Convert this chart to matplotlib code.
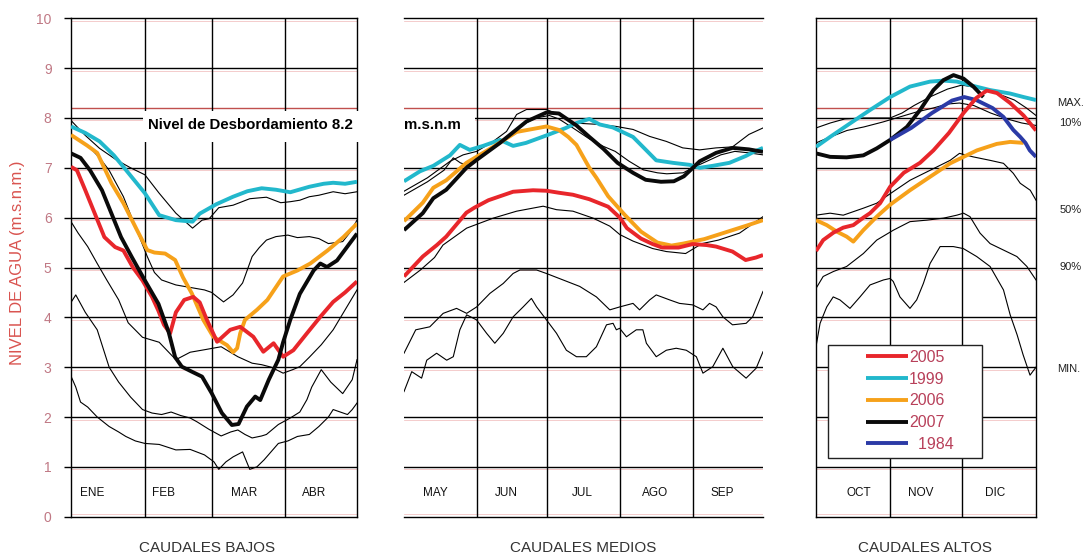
import matplotlib
matplotlib.use('Agg')
import matplotlib.pyplot as plt
from matplotlib.patches import Rectangle

plt.rcParams['font.family'] = ['Liberation Sans', 'DejaVu Sans']

# ---- datos: (dia desde el inicio del periodo, nivel m.s.n.m.) ----

# CAUDALES BAJOS  (enero - abril)
bajos_meses = ['ENE', 'FEB', 'MAR', 'ABR']
bajos_max = [(0, 7.95), (6, 7.65), (12, 7.39), (19, 7.16), (25, 7.0), (31, 6.86), (37, 6.49), (44, 6.09),
             (51, 5.79), (55, 5.95), (58, 5.98), (62, 6.2), (68, 6.25), (75, 6.38), (82, 6.41), (88, 6.3),
             (92, 6.32), (96, 6.35), (100, 6.42), (104, 6.45), (110, 6.52), (115, 6.48), (120, 6.52)]
bajos_10 = [(0, 7.65), (4, 7.55), (8, 7.4), (12, 7.2), (16, 6.95), (22, 6.42), (27, 5.82), (32, 5.22),
            (35, 4.9), (38, 4.75), (44, 4.65), (50, 4.6), (56, 4.55), (59, 4.5), (64, 4.31), (68, 4.45),
            (72, 4.69), (76, 5.22), (79, 5.4), (82, 5.55), (86, 5.62), (91, 5.65), (95, 5.6), (100, 5.62),
            (104, 5.58), (108, 5.48), (114, 5.52), (117, 5.7), (120, 5.95)]
bajos_50 = [(0, 5.92), (3, 5.69), (7, 5.42), (11, 5.08), (15, 4.75), (20, 4.35), (24, 3.89), (30, 3.6),
            (37, 3.5), (41, 3.3), (44, 3.15), (50, 3.3), (56, 3.35), (63, 3.41), (70, 3.21), (76, 3.08),
            (80, 3.05), (84, 3.0), (89, 2.88), (93, 2.95), (96, 3.01), (100, 3.2), (105, 3.45), (110, 3.75),
            (115, 4.15), (120, 4.55)]
bajos_90 = [(0, 4.3), (2, 4.45), (6, 4.1), (11, 3.75), (16, 3.0), (20, 2.7), (25, 2.4), (30, 2.15),
            (34, 2.08), (38, 2.05), (42, 2.1), (46, 2.03), (50, 1.98), (53, 1.9), (58, 1.75), (63, 1.62),
            (67, 1.7), (70, 1.74), (73, 1.65), (76, 1.58), (80, 1.62), (82, 1.65), (87, 1.85), (92, 1.98),
            (96, 2.1), (99, 2.35), (101, 2.6), (105, 2.95), (109, 2.7), (114, 2.47), (118, 2.75), (120, 3.15)]
bajos_min = [(0, 2.82), (2, 2.6), (4, 2.3), (7, 2.2), (11, 2.0), (16, 1.81), (20, 1.7), (23, 1.61),
             (27, 1.52), (31, 1.47), (37, 1.45), (44, 1.34), (50, 1.35), (56, 1.24), (60, 1.1), (62, 0.95),
             (65, 1.1), (68, 1.2), (72, 1.3), (75, 0.95), (78, 1.0), (81, 1.14), (87, 1.47), (91, 1.52),
             (95, 1.61), (100, 1.65), (104, 1.81), (108, 2.0), (110, 2.15), (113, 2.1), (116, 2.05),
             (118, 2.15), (120, 2.28)]
bajos_2005 = [(0, 7.02), (2.5, 6.95), (6, 6.55), (10, 6.08), (14, 5.61), (18.5, 5.41), (22, 5.34), (26, 5.0),
              (30, 4.74), (34, 4.41), (36.6, 4.14), (39, 3.85), (41.6, 3.68), (44, 4.1), (47.5, 4.35),
              (51.3, 4.41), (54, 4.3), (57, 3.95), (61.3, 3.51), (66.8, 3.75), (71, 3.81), (76.5, 3.61),
              (80.7, 3.31), (85, 3.48), (89, 3.21), (93.3, 3.34), (99, 3.68), (104.6, 4.01), (110, 4.31),
              (115, 4.5), (120, 4.72)]
bajos_1999 = [(0, 7.83), (6, 7.7), (12, 7.53), (18, 7.25), (23, 6.96), (31, 6.49), (37, 6.05), (44, 5.95),
              (51, 5.92), (54, 6.08), (61, 6.27), (68, 6.42), (74, 6.53), (80, 6.59), (86, 6.56), (92, 6.51),
              (100, 6.62), (106, 6.68), (110, 6.70), (115, 6.68), (120, 6.72)]
bajos_2006 = [(0, 7.66), (6.7, 7.45), (11, 7.3), (17, 6.69), (22, 6.29), (27.7, 5.75), (32, 5.35), (35, 5.3),
              (39.5, 5.28), (43.7, 5.15), (47, 4.8), (50.7, 4.48), (55.5, 3.95), (59.7, 3.61), (65.5, 3.44),
              (68, 3.3), (69.7, 3.38), (71, 3.68), (73, 3.95), (78, 4.15), (82.4, 4.35), (89, 4.82),
              (95, 4.94), (100.4, 5.08), (107.6, 5.34), (114.3, 5.61), (120, 5.88)]
bajos_2007 = [(0, 7.29), (4, 7.2), (8, 6.95), (13, 6.55), (17, 6.08), (21, 5.61), (25.5, 5.21), (31, 4.74),
              (36.7, 4.27), (41, 3.7), (43.7, 3.2), (46.5, 3.01), (50.7, 2.91), (55, 2.81), (59, 2.48),
              (63.3, 2.08), (67.5, 1.84), (70.3, 1.86), (73.8, 2.21), (77.3, 2.41), (79.4, 2.34), (83, 2.75),
              (87, 3.15), (89, 3.5), (92, 3.95), (96, 4.47), (101.8, 4.94), (104.6, 5.08), (107.4, 5.01),
              (111.6, 5.14), (115.8, 5.41), (120, 5.68)]

# CAUDALES MEDIOS  (mayo - septiembre)
medios_meses = ['MAY', 'JUN', 'JUL', 'AGO', 'SEP']
medios_max = [(0, 6.53), (10, 6.8), (19.6, 7.13), (25.2, 7.26), (31, 7.33), (38, 7.53), (43.7, 7.73),
              (48, 8.07), (52.2, 8.17), (60.7, 8.17), (66, 8.07), (72, 7.9), (83.4, 7.87), (90.5, 7.83),
              (97.6, 7.77), (104.7, 7.63), (111.8, 7.53), (118.8, 7.4), (126, 7.36), (133, 7.4),
              (140, 7.42), (147, 7.67), (153, 7.8)]
medios_10 = [(0, 6.45), (10, 6.72), (17, 6.95), (21, 7.2), (24, 7.1), (27, 7.05), (31, 7.2), (38, 7.4),
             (44, 7.6), (50, 7.85), (56, 8.0), (62, 8.05), (66, 7.98), (72, 7.8), (79, 7.58), (85, 7.43),
             (90, 7.33), (96, 7.13), (102, 6.96), (108, 6.9), (112, 6.88), (119, 6.9), (123, 7.0),
             (129, 7.13), (135, 7.26), (141, 7.33), (147, 7.3), (153, 7.26)]
medios_50 = [(0, 4.7), (7, 4.95), (13, 5.2), (16.6, 5.45), (26.7, 5.79), (38, 5.99), (48, 6.13), (59.3, 6.23),
             (65, 6.16), (72, 6.13), (80.6, 5.99), (87.7, 5.83), (92, 5.66), (97.6, 5.53), (106, 5.38),
             (111.8, 5.32), (120, 5.28), (127, 5.48), (134, 5.55), (143, 5.69), (153, 6.02)]
medios_90 = [(0, 3.28), (5, 3.75), (11, 3.81), (16.7, 4.08), (22.4, 4.18), (26.7, 4.08), (31, 4.21),
             (36.6, 4.48), (42.3, 4.68), (46.5, 4.88), (49.4, 4.95), (56.5, 4.95), (60.7, 4.88), (67.8, 4.75),
             (74.9, 4.62), (82, 4.41), (87.7, 4.15), (92, 4.21), (97.6, 4.28), (100.4, 4.15), (104.7, 4.35),
             (107.5, 4.45), (113.2, 4.35), (117.4, 4.28), (123, 4.25), (127.4, 4.15), (130.2, 4.28),
             (133, 4.21), (135.9, 4.01), (140, 3.85), (145.8, 3.88), (148.6, 4.01), (153, 4.52)]
medios_min = [(0, 2.51), (3.3, 2.91), (7.5, 2.78), (9.7, 3.14), (13.9, 3.28), (18.2, 3.14), (21, 3.21),
              (23.8, 3.75), (26.7, 4.05), (30.9, 3.95), (35.2, 3.68), (38.7, 3.48), (42.3, 3.68), (46.5, 4.01),
              (50.8, 4.21), (54.3, 4.38), (56.5, 4.21), (60.7, 3.95), (65, 3.68), (69.2, 3.34), (73.5, 3.21),
              (77.7, 3.21), (82, 3.41), (86.3, 3.85), (89.1, 3.88), (90.5, 3.75), (91.9, 3.78), (94.8, 3.61),
              (99, 3.75), (101.8, 3.75), (103.3, 3.48), (107.5, 3.21), (111.8, 3.34), (116, 3.38),
              (120.3, 3.34), (124.6, 3.21), (127.4, 2.88), (131.6, 3.01), (135.9, 3.38), (140.1, 3.01),
              (145.8, 2.78), (150.1, 2.98), (153, 3.31)]
medios_2005 = [(0, 4.82), (8, 5.22), (14, 5.45), (18, 5.62), (26.6, 6.1), (30, 6.2), (36, 6.35), (46.5, 6.52),
               (55, 6.55), (60.7, 6.54), (66, 6.5), (72, 6.46), (79, 6.37), (87, 6.22), (92, 6.0), (95, 5.79),
               (101, 5.58), (106, 5.47), (110, 5.4), (117, 5.4), (123, 5.47), (129, 5.45), (133, 5.42),
               (140, 5.32), (145.6, 5.15), (150, 5.2), (153, 5.25)]
medios_1999 = [(0, 6.73), (6.8, 6.93), (12.5, 7.04), (19.6, 7.25), (23.8, 7.46), (28, 7.36), (33.7, 7.44),
               (40.9, 7.56), (46.5, 7.44), (52, 7.5), (60.7, 7.65), (69, 7.8), (73.5, 7.9), (79, 7.98),
               (83.4, 7.87), (89, 7.81), (97.6, 7.62), (103.3, 7.35), (107.5, 7.15), (114.6, 7.1),
               (121.7, 7.06), (126, 7.0), (131.6, 7.04), (138.7, 7.1), (145.8, 7.24), (148.6, 7.31), (153, 7.4)]
medios_2006 = [(0, 5.93), (8, 6.3), (12.5, 6.6), (18, 6.75), (26.6, 7.1), (38, 7.42), (48, 7.72), (60.7, 7.83),
               (66, 7.76), (70, 7.62), (73.5, 7.46), (76, 7.25), (79, 7.0), (82, 6.8), (87, 6.43), (94, 6.06),
               (101, 5.72), (108, 5.5), (114, 5.44), (119, 5.48), (128, 5.57), (138, 5.72), (146, 5.84),
               (153, 5.95)]
medios_2007 = [(0, 5.75), (8, 6.09), (12.5, 6.39), (18, 6.56), (26.6, 7.0), (31, 7.16), (40.9, 7.5),
               (52.2, 7.93), (60.7, 8.11), (66, 8.09), (73.5, 7.85), (79, 7.62), (85, 7.38), (91, 7.1),
               (97.6, 6.9), (103, 6.76), (109.5, 6.72), (115, 6.73), (119.3, 6.83), (126, 7.13), (133, 7.3),
               (140, 7.4), (147, 7.37), (153, 7.32)]

# CAUDALES ALTOS  (octubre - diciembre)
altos_meses = ['OCT', 'NOV', 'DIC']
altos_max = [(0, 7.8), (6, 7.9), (12, 7.98), (20, 8.0), (31, 8.0), (36, 8.1), (41, 8.25), (48, 8.43),
             (55, 8.58), (61, 8.66), (66, 8.62), (71, 8.56), (78, 8.45), (83, 8.36), (88, 8.2), (92, 8.05)]
altos_10 = [(0, 7.5), (6, 7.62), (13, 7.75), (20, 7.82), (28, 7.92), (35, 8.02), (42, 8.12), (49, 8.2),
            (55, 8.28), (60, 8.3), (66, 8.25), (73, 8.1), (80, 7.98), (86, 7.9), (92, 7.85)]
altos_50 = [(0, 6.05), (5.9, 6.09), (11.4, 6.05), (15.6, 6.12), (19.8, 6.19), (25.4, 6.29), (31, 6.48),
            (39.3, 6.75), (47.7, 6.95), (56.1, 7.15), (60, 7.29), (65.7, 7.22), (72.8, 7.15), (78.4, 7.09),
            (82.5, 6.89), (85.4, 6.69), (89.6, 6.55), (92, 6.35)]
altos_90 = [(0, 4.58), (3, 4.82), (7.3, 4.92), (12.8, 5.02), (19.8, 5.28), (25.4, 5.55), (32.4, 5.75),
            (39.3, 5.92), (46.3, 5.95), (53.3, 5.99), (58.9, 6.05), (61.7, 6.09), (64.4, 6.02), (68.6, 5.69),
            (72.8, 5.48), (78.4, 5.35), (84, 5.22), (88.2, 5.02), (92, 4.75)]
altos_min = [(0, 3.41), (1.7, 3.88), (4.5, 4.21), (7.2, 4.41), (10, 4.35), (14.2, 4.18), (18.4, 4.41),
             (22.6, 4.65), (28.2, 4.75), (31, 4.78), (32.3, 4.72), (35.1, 4.41), (39.3, 4.18), (42.1, 4.35),
             (44.9, 4.68), (47.7, 5.08), (51.9, 5.42), (57.4, 5.42), (61.6, 5.38), (67.2, 5.22), (72.8, 5.02),
             (78.4, 4.55), (81.2, 4.05), (84.1, 3.65), (86.6, 3.25), (89.5, 2.84), (92, 3.0)]
altos_2005 = [(0, 5.33), (3, 5.55), (7.3, 5.7), (11.4, 5.8), (15.6, 5.85), (19.8, 6.0), (22.6, 6.09),
              (26.8, 6.29), (31, 6.62), (36.7, 6.9), (43.5, 7.1), (49.1, 7.35), (55.6, 7.7), (61.7, 8.1),
              (67, 8.4), (71.4, 8.55), (75.7, 8.5), (81.2, 8.3), (86.8, 8.05), (92, 7.75)]
altos_1999 = [(0, 7.42), (5.9, 7.62), (14.2, 7.89), (22.6, 8.16), (31, 8.42), (39.3, 8.63), (47.7, 8.73),
              (53.3, 8.75), (58.9, 8.73), (64.4, 8.66), (72.8, 8.56), (81.2, 8.49), (86.8, 8.42), (92, 8.36)]
altos_2006 = [(0, 5.95), (4.5, 5.85), (8.7, 5.72), (12.8, 5.62), (15.6, 5.52), (19.8, 5.75), (25.4, 6.02),
              (31, 6.26), (39.3, 6.55), (47.7, 6.82), (56.1, 7.09), (61.7, 7.22), (67.3, 7.35), (75.6, 7.48),
              (81.2, 7.52), (86.8, 7.5)]
altos_2007 = [(0, 7.29), (5.9, 7.22), (12.8, 7.21), (19.8, 7.25), (25.4, 7.39), (31, 7.56), (38, 7.82),
              (43.5, 8.16), (49.1, 8.56), (53.3, 8.76), (57.5, 8.86), (61.7, 8.79), (65.8, 8.63), (70, 8.42)]
altos_1984 = [(31, 7.56), (39.8, 7.8), (48.5, 8.1), (56.9, 8.35), (62, 8.42), (67, 8.36), (73.8, 8.2),
              (78.4, 8.02), (82.5, 7.76), (85.4, 7.62), (87.6, 7.5), (89.4, 7.35), (92, 7.22)]

anios = ['2005', '1999', '2006', '2007', '1984']
percentiles = ['MAX.', '10%', '50%', '90%', 'MIN.']
percentil_nivel = [8.3, 7.9, 6.15, 5.0, 2.97]
desborde = 8.2

# ---- estilo ----
colores = {'2005': '#e8262b', '1999': '#22b8cc', '2006': '#f6a11a', '2007': '#0a0a0a', '1984': '#2b3aa6'}
W, H = 1087, 556
Y_TOP, Y_BOT = 18.3, 516.7

fig = plt.figure(figsize=(W / 100, H / 100), dpi=100)


def add_panel(x0, x1):
    return fig.add_axes([x0 / W, 1 - Y_BOT / H, (x1 - x0) / W, (Y_BOT - Y_TOP) / H])


def xy(curve):
    return [p[0] for p in curve], [p[1] for p in curve]


def draw_panel(ax, n_days, month_ends, months, label_x, thin, years, side_spines=True):
    ax.set_xlim(0, n_days)
    ax.set_ylim(0, 10)
    for y in range(1, 10):
        ax.axhline(y, color='black', lw=1.0, zorder=1)
    for y in range(0, 11):
        ax.axhline(y - 0.05 if y > 0 else 0.05, color='#e07070', lw=0.5, alpha=0.5, zorder=0.9)
    ax.axhline(desborde, color='#c0504d', lw=1.0, zorder=1)
    for d in month_ends:
        ax.axvline(d, color='black', lw=1.0, zorder=1)
    for s in ['top', 'bottom', 'left', 'right']:
        ax.spines[s].set_color('black')
        ax.spines[s].set_linewidth(1.0)
    if not side_spines:
        ax.spines['left'].set_visible(False)
        ax.spines['right'].set_visible(False)
    ax.set_xticks([])
    ax.set_yticks([])
    for m, x in zip(months, label_x):
        ax.text(x, 0.48, m, ha='center', va='center', fontsize=8.5, color='#111111')
    for c in thin:
        ax.plot(*xy(c), color='black', lw=0.8, zorder=2)
    handles = {}
    for name, c in years:
        handles[name], = ax.plot(*xy(c), color=colores[name], lw=2.8, zorder=3,
                                 solid_capstyle='butt')
    return handles


ax1 = add_panel(71, 357)
draw_panel(ax1, 120, [31, 59, 90], bajos_meses, [9, 39, 72.5, 102],
           [bajos_max, bajos_10, bajos_50, bajos_90, bajos_min],
           [('1999', bajos_1999), ('2006', bajos_2006), ('2005', bajos_2005), ('2007', bajos_2007)])
ax1.set_yticks(range(0, 11))
ax1.tick_params(axis='y', length=5, width=1, color='black', pad=9, labelsize=10, labelcolor='#c07884')

ax2 = add_panel(404, 763)
draw_panel(ax2, 153, [31, 61, 92, 123], medios_meses, [13.5, 43.5, 76, 107, 135.5],
           [medios_max, medios_10, medios_50, medios_90, medios_min],
           [('1999', medios_1999), ('2006', medios_2006), ('2005', medios_2005), ('2007', medios_2007)],
           side_spines=False)

ax3 = add_panel(816, 1036)
h = draw_panel(ax3, 92, [31, 61], altos_meses, [17.7, 44, 75],
               [altos_max, altos_10, altos_50, altos_90, altos_min],
               [('1999', altos_1999), ('2006', altos_2006), ('2007', altos_2007),
                ('1984', altos_1984), ('2005', altos_2005)])

for s, y in zip(percentiles, percentil_nivel):
    ax3.text(1.095 if s.endswith('.') else 1.105, y, s, transform=ax3.get_yaxis_transform(),
             fontsize=8, color='#222222', va='center', ha='left')

# caja blanca del nivel de desbordamiento
fig.patches.append(Rectangle((143 / W, 1 - 142 / H), (475 - 143) / W, 31 / H,
                             transform=fig.transFigure, facecolor='white', edgecolor='none', zorder=2))
fig.text(148 / W, 1 - 125 / H, 'Nivel de Desbordamiento %.1f' % desborde, fontsize=10.8,
         fontweight='bold', va='center', ha='left', zorder=3)
fig.text(404 / W, 1 - 125 / H, 'm.s.n.m', fontsize=10.8, fontweight='bold', va='center', ha='left', zorder=3)

# leyenda
fig.patches.append(Rectangle((828 / W, 1 - 458 / H), (982 - 828) / W, (458 - 345) / H,
                             transform=fig.transFigure, facecolor='white', edgecolor='#222222',
                             lw=1.0, zorder=4))
leg = fig.legend([h[a] for a in anios], [a if a != '1984' else '  ' + a for a in anios],
                 loc='upper left', bbox_to_anchor=(866 / W, 1 - 350 / H), frameon=False,
                 fontsize=11.5, labelcolor='#b8405a', handlelength=2.6, handletextpad=0.1,
                 labelspacing=0.42, borderpad=0, borderaxespad=0)
leg.set_zorder(5)

fig.text(18 / W, 1 - 263 / H, 'NIVEL DE AGUA (m.s.n.m.)', rotation=90, color='#d9534f',
         fontsize=12, ha='center', va='center')
for t, x in zip(['CAUDALES BAJOS', 'CAUDALES MEDIOS', 'CAUDALES ALTOS'], [207, 583, 925]):
    fig.text(x / W, 1 - 548 / H, t, fontsize=11, color='#333333', ha='center', va='center')

fig.savefig('out.png', dpi=100, facecolor='white')
